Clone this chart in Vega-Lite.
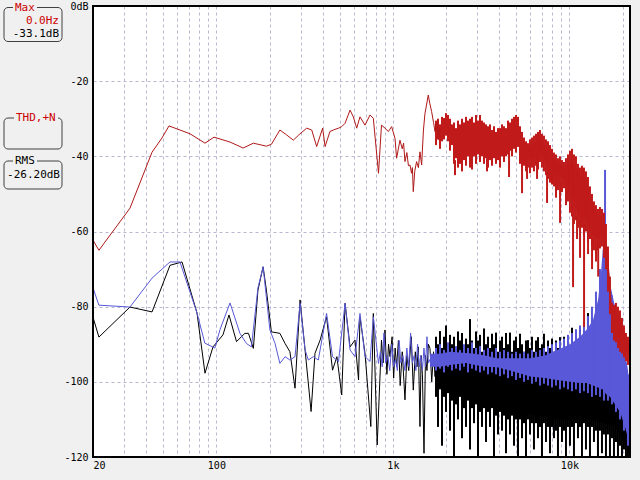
{
"$schema": "https://vega.github.io/schema/vega-lite/v6.json",
"width": 537, "height": 451,
"autosize": {"type": "none"},
"padding": {"left": 93, "top": 6, "right": 10, "bottom": 23},
"background": "#f0f0f0",
"view": {"fill": "white", "stroke": null},
"config": {"axis": {"labelFont": "DejaVu Sans Mono", "labelFontSize": 10, "labelColor": "#000000", "ticks": false, "domain": false, "gridColor": "#b8b8d0", "gridDash": [3, 3], "gridWidth": 1, "title": null}},
"datasets": {
"redLine": [{"f":20,"lo":-62.3},{"f":21.6,"lo":-65.0},{"f":32.4,"lo":-53.8},{"f":43.2,"lo":-38.9},{"f":49.2,"lo":-35.1},{"f":53.9,"lo":-31.9},{"f":70.9,"lo":-34.0},{"f":86.2,"lo":-36.5},{"f":97,"lo":-34.9},{"f":119.5,"lo":-36.2},{"f":136,"lo":-37.4},{"f":141.5,"lo":-37.8},{"f":162,"lo":-36.5},{"f":192,"lo":-37.3},{"f":205,"lo":-36.8},{"f":229,"lo":-33.0},{"f":250,"lo":-34.3},{"f":273,"lo":-35.7},{"f":293,"lo":-34.3},{"f":325,"lo":-32.5},{"f":347,"lo":-33.0},{"f":370,"lo":-37.4},{"f":400,"lo":-32.5},{"f":413,"lo":-37.4},{"f":440,"lo":-33.4},{"f":460,"lo":-33.0},{"f":492,"lo":-32.5},{"f":513,"lo":-32.1},{"f":536,"lo":-31.2},{"f":572,"lo":-27.7},{"f":597,"lo":-29.5},{"f":624,"lo":-32.5},{"f":651,"lo":-29.5},{"f":695,"lo":-31.7},{"f":742,"lo":-29.0},{"f":775,"lo":-29.9},{"f":829,"lo":-44.5},{"f":862,"lo":-31.7},{"f":902,"lo":-32.5},{"f":943,"lo":-33.4},{"f":984,"lo":-32.1},{"f":1028,"lo":-35.2},{"f":1050,"lo":-40.5},{"f":1097,"lo":-35.7},{"f":1130,"lo":-38},{"f":1150,"lo":-36.5},{"f":1171,"lo":-41.4},{"f":1200,"lo":-39},{"f":1225,"lo":-42.5},{"f":1250,"lo":-42.3},{"f":1275,"lo":-44.5},{"f":1290,"lo":-43},{"f":1305,"lo":-49.4},{"f":1330,"lo":-44},{"f":1362,"lo":-41.4},{"f":1395,"lo":-43},{"f":1424,"lo":-38.8},{"f":1455,"lo":-42.3},{"f":1490,"lo":-33},{"f":1520,"lo":-28.6},{"f":1587,"lo":-23.7},{"f":1620,"lo":-26},{"f":1658,"lo":-28.1},{"f":1700,"lo":-31},{"f":1733,"lo":-33.4},{"f":1770,"lo":-31},{"f":1810,"lo":-35.2},{"f":1849,"lo":-32.5}],
"redBand": [{"f":1755,"lo":-35,"hi":-32},{"f":1849,"lo":-36,"hi":-32.5},{"f":2000,"lo":-33,"hi":-30},{"f":2162,"lo":-36,"hi":-32.5},{"f":2400,"lo":-39,"hi":-33},{"f":2735,"lo":-38,"hi":-32},{"f":3116,"lo":-37.5,"hi":-31.5},{"f":3550,"lo":-38,"hi":-34},{"f":4044,"lo":-38,"hi":-34},{"f":4607,"lo":-36,"hi":-32.5},{"f":5114,"lo":-36,"hi":-31},{"f":5530,"lo":-40,"hi":-37},{"f":6138,"lo":-41,"hi":-37},{"f":6813,"lo":-39,"hi":-35},{"f":7563,"lo":-43,"hi":-38},{"f":8394,"lo":-45,"hi":-41},{"f":9318,"lo":-46,"hi":-43},{"f":10343,"lo":-52,"hi":-41},{"f":11480,"lo":-56,"hi":-45},{"f":12415,"lo":-57,"hi":-46},{"f":13425,"lo":-61,"hi":-52},{"f":14518,"lo":-62,"hi":-56},{"f":15296,"lo":-61,"hi":-56},{"f":15700,"lo":-64,"hi":-57},{"f":16541,"lo":-73,"hi":-66},{"f":17427,"lo":-84,"hi":-80},{"f":18361,"lo":-87,"hi":-81},{"f":19344,"lo":-89,"hi":-83},{"f":20380,"lo":-91,"hi":-86},{"f":21472,"lo":-93,"hi":-89},{"f":22050,"lo":-94,"hi":-90}],
"redSpike": [{"f":1755,"lo":-37,"hi":-30.5},{"f":1801,"lo":-35.5,"hi":-30},{"f":1849,"lo":-38,"hi":-31.5},{"f":1898,"lo":-36,"hi":-29.5},{"f":1948,"lo":-35.5,"hi":-29.8},{"f":2000,"lo":-34.5,"hi":-28.5},{"f":2053,"lo":-36,"hi":-29},{"f":2107,"lo":-38.5,"hi":-30},{"f":2162,"lo":-37,"hi":-31.5},{"f":2219,"lo":-42,"hi":-31},{"f":2278,"lo":-40.5,"hi":-32.5},{"f":2338,"lo":-43,"hi":-30.5},{"f":2400,"lo":-42,"hi":-31.5},{"f":2464,"lo":-44,"hi":-30},{"f":2529,"lo":-41,"hi":-31},{"f":2596,"lo":-42.5,"hi":-29.5},{"f":2664,"lo":-40,"hi":-30.5},{"f":2735,"lo":-43,"hi":-30},{"f":2807,"lo":-41,"hi":-29.5},{"f":2881,"lo":-40,"hi":-31},{"f":2957,"lo":-42,"hi":-29},{"f":3035,"lo":-39.5,"hi":-30.5},{"f":3116,"lo":-41.5,"hi":-29},{"f":3198,"lo":-40,"hi":-30.5},{"f":3283,"lo":-42,"hi":-31},{"f":3369,"lo":-40.5,"hi":-31.5},{"f":3458,"lo":-43,"hi":-32},{"f":3550,"lo":-41,"hi":-31.5},{"f":3644,"lo":-42.5,"hi":-33},{"f":3740,"lo":-40.5,"hi":-32},{"f":3839,"lo":-42,"hi":-33.5},{"f":3940,"lo":-41,"hi":-32.5},{"f":4044,"lo":-43,"hi":-32.5},{"f":4151,"lo":-40,"hi":-31.5},{"f":4261,"lo":-41.5,"hi":-32},{"f":4373,"lo":-40,"hi":-32.5},{"f":4489,"lo":-39.5,"hi":-30.5},{"f":4607,"lo":-38.5,"hi":-31},{"f":4729,"lo":-40,"hi":-30},{"f":4854,"lo":-38,"hi":-29.5},{"f":4982,"lo":-39,"hi":-29},{"f":5114,"lo":-37.5,"hi":-29.5},{"f":5249,"lo":-42,"hi":-32},{"f":5388,"lo":-43,"hi":-33.5},{"f":5530,"lo":-42.5,"hi":-35},{"f":5676,"lo":-44,"hi":-36},{"f":5826,"lo":-43,"hi":-36.5},{"f":5980,"lo":-44.5,"hi":-35.5},{"f":6138,"lo":-43,"hi":-35},{"f":6300,"lo":-44,"hi":-34.5},{"f":6467,"lo":-42.5,"hi":-34},{"f":6638,"lo":-43.5,"hi":-33.5},{"f":6813,"lo":-41.5,"hi":-33},{"f":6993,"lo":-43,"hi":-34},{"f":7178,"lo":-44,"hi":-34.5},{"f":7368,"lo":-45,"hi":-35.5},{"f":7563,"lo":-46,"hi":-36},{"f":7763,"lo":-47,"hi":-37},{"f":7968,"lo":-47.5,"hi":-38},{"f":8178,"lo":-48,"hi":-39},{"f":8394,"lo":-48.5,"hi":-39.5},{"f":8616,"lo":-49,"hi":-40.5},{"f":8844,"lo":-48,"hi":-40},{"f":9078,"lo":-49.5,"hi":-41},{"f":9318,"lo":-48.5,"hi":-41.5},{"f":9564,"lo":-50,"hi":-40.5},{"f":9817,"lo":-52,"hi":-39.5},{"f":10076,"lo":-55,"hi":-38.5},{"f":10343,"lo":-56,"hi":-38},{"f":10616,"lo":-58,"hi":-39.5},{"f":10897,"lo":-57,"hi":-40},{"f":11185,"lo":-59,"hi":-42},{"f":11480,"lo":-60,"hi":-43},{"f":11784,"lo":-59,"hi":-42.5},{"f":12095,"lo":-61,"hi":-43},{"f":12415,"lo":-60,"hi":-44},{"f":12743,"lo":-63,"hi":-45.5},{"f":13080,"lo":-62,"hi":-48},{"f":13425,"lo":-64,"hi":-50},{"f":13780,"lo":-65,"hi":-52},{"f":14144,"lo":-66,"hi":-53},{"f":14518,"lo":-65,"hi":-54},{"f":14902,"lo":-64.5,"hi":-53.5},{"f":15296,"lo":-64,"hi":-54},{"f":15700,"lo":-67,"hi":-55},{"f":16115,"lo":-70,"hi":-58},{"f":16541,"lo":-76,"hi":-64},{"f":16978,"lo":-82,"hi":-72},{"f":17427,"lo":-87,"hi":-79},{"f":17888,"lo":-89,"hi":-79.5},{"f":18361,"lo":-89.5,"hi":-79},{"f":18846,"lo":-91,"hi":-80},{"f":19344,"lo":-92,"hi":-81},{"f":19856,"lo":-92.5,"hi":-83},{"f":20380,"lo":-93.5,"hi":-85},{"f":20919,"lo":-94.5,"hi":-87},{"f":21472,"lo":-95.5,"hi":-88},{"f":2249,"lo":-41,"hi":-45},{"f":2808,"lo":-39,"hi":-43.5},{"f":3415,"lo":-40.5,"hi":-44},{"f":4551,"lo":-38,"hi":-45.5},{"f":5392,"lo":-41,"hi":-49.8},{"f":5756,"lo":-42,"hi":-46},{"f":6558,"lo":-42,"hi":-46},{"f":7472,"lo":-44,"hi":-52.4},{"f":8400,"lo":-46,"hi":-51},{"f":8853,"lo":-47,"hi":-57.7},{"f":9570,"lo":-47,"hi":-53},{"f":10490,"lo":-53,"hi":-74.8},{"f":11052,"lo":-56,"hi":-62},{"f":11493,"lo":-57,"hi":-67},{"f":12109,"lo":-58,"hi":-85.4},{"f":12760,"lo":-60,"hi":-66},{"f":13439,"lo":-62,"hi":-70},{"f":14160,"lo":-64,"hi":-68},{"f":14560,"lo":-63,"hi":-72}],
"blackLine": [{"f":20,"lo":-82.8},{"f":21.6,"lo":-88.1},{"f":32.4,"lo":-80.1},{"f":43.2,"lo":-81.4},{"f":54.6,"lo":-69},{"f":63.9,"lo":-68.1},{"f":77.7,"lo":-81.7},{"f":86.2,"lo":-97.7},{"f":95.7,"lo":-90.7},{"f":109,"lo":-87.5},{"f":117.9,"lo":-82.2},{"f":130,"lo":-89.3},{"f":145,"lo":-87.1},{"f":152,"lo":-87.1},{"f":162,"lo":-91.1},{"f":172,"lo":-75.6},{"f":184,"lo":-69.4},{"f":192,"lo":-75.6},{"f":205,"lo":-86.7},{"f":229,"lo":-87.1},{"f":245,"lo":-89.8},{"f":261,"lo":-92.0},{"f":279,"lo":-101.7},{"f":298,"lo":-78.2},{"f":318,"lo":-91.5},{"f":344,"lo":-107.9},{"f":362,"lo":-92.4},{"f":387,"lo":-88.9},{"f":421,"lo":-82.7},{"f":455,"lo":-96.9},{"f":482,"lo":-93.3},{"f":513,"lo":-103.5},{"f":536,"lo":-79.1},{"f":572,"lo":-90.7},{"f":610,"lo":-88.9},{"f":639,"lo":-99.5},{"f":651,"lo":-82.7},{"f":695,"lo":-92.4},{"f":750,"lo":-111.9},{"f":775,"lo":-81.8},{"f":815,"lo":-116.8},{"f":862,"lo":-88.9},{"f":880,"lo":-95},{"f":902,"lo":-86.2},{"f":925,"lo":-98},{"f":945,"lo":-90},{"f":963,"lo":-93.3},{"f":990,"lo":-88},{"f":1010,"lo":-99},{"f":1030,"lo":-91},{"f":1050,"lo":-96},{"f":1075,"lo":-89},{"f":1100,"lo":-101},{"f":1130,"lo":-92},{"f":1171,"lo":-104.8},{"f":1200,"lo":-93},{"f":1230,"lo":-97},{"f":1272,"lo":-88},{"f":1305,"lo":-102.2},{"f":1340,"lo":-92},{"f":1370,"lo":-96},{"f":1395,"lo":-90.7},{"f":1424,"lo":-111.9},{"f":1445,"lo":-93},{"f":1470,"lo":-98},{"f":1501,"lo":-119},{"f":1530,"lo":-93},{"f":1560,"lo":-97},{"f":1590,"lo":-90},{"f":1623,"lo":-91.1},{"f":1660,"lo":-100},{"f":1700,"lo":-92},{"f":1733,"lo":-98.6},{"f":1770,"lo":-92},{"f":1810,"lo":-104},{"f":1849,"lo":-89.8}],
"blackBand": [{"f":1849,"lo":-101,"hi":-95},{"f":2107,"lo":-102,"hi":-95},{"f":2500,"lo":-103,"hi":-95},{"f":3000,"lo":-104.5,"hi":-95.5},{"f":4046,"lo":-106.5,"hi":-96},{"f":5985,"lo":-108.5,"hi":-97},{"f":8853,"lo":-110,"hi":-98},{"f":13093,"lo":-110,"hi":-99},{"f":15922,"lo":-111,"hi":-100},{"f":18139,"lo":-112,"hi":-101},{"f":20665,"lo":-116,"hi":-106},{"f":22050,"lo":-120,"hi":-110}],
"blackSpike": [{"f":1755,"lo":-104,"hi":-88},{"f":1801,"lo":-112,"hi":-90},{"f":1849,"lo":-102,"hi":-86.5},{"f":1898,"lo":-117,"hi":-91},{"f":1948,"lo":-104,"hi":-88},{"f":2000,"lo":-108,"hi":-85},{"f":2053,"lo":-103,"hi":-92},{"f":2107,"lo":-113,"hi":-87.5},{"f":2162,"lo":-105,"hi":-90},{"f":2219,"lo":-120,"hi":-88},{"f":2278,"lo":-106,"hi":-91},{"f":2338,"lo":-110,"hi":-86.6},{"f":2400,"lo":-104,"hi":-89},{"f":2464,"lo":-115,"hi":-87},{"f":2529,"lo":-107,"hi":-92},{"f":2596,"lo":-112,"hi":-88.5},{"f":2664,"lo":-105,"hi":-90},{"f":2735,"lo":-118,"hi":-83.3},{"f":2807,"lo":-107,"hi":-89},{"f":2881,"lo":-111,"hi":-91},{"f":2957,"lo":-106,"hi":-86.6},{"f":3035,"lo":-120,"hi":-89},{"f":3116,"lo":-108,"hi":-87.5},{"f":3198,"lo":-112,"hi":-92},{"f":3283,"lo":-107,"hi":-85.8},{"f":3369,"lo":-116,"hi":-90},{"f":3458,"lo":-108,"hi":-88},{"f":3550,"lo":-112,"hi":-91},{"f":3644,"lo":-107,"hi":-87.2},{"f":3740,"lo":-120,"hi":-90},{"f":3839,"lo":-109,"hi":-86.9},{"f":3940,"lo":-114,"hi":-92},{"f":4044,"lo":-108,"hi":-89},{"f":4151,"lo":-113,"hi":-88},{"f":4261,"lo":-109,"hi":-91},{"f":4373,"lo":-119,"hi":-87},{"f":4489,"lo":-110,"hi":-90},{"f":4607,"lo":-114,"hi":-86.9},{"f":4729,"lo":-109,"hi":-92},{"f":4854,"lo":-117,"hi":-89},{"f":4982,"lo":-110,"hi":-88},{"f":5114,"lo":-120,"hi":-91},{"f":5249,"lo":-110,"hi":-87.2},{"f":5388,"lo":-115,"hi":-90},{"f":5530,"lo":-111,"hi":-92},{"f":5676,"lo":-120,"hi":-89},{"f":5826,"lo":-110,"hi":-88.9},{"f":5980,"lo":-114,"hi":-91},{"f":6138,"lo":-111,"hi":-88},{"f":6300,"lo":-118,"hi":-92},{"f":6467,"lo":-111,"hi":-89},{"f":6638,"lo":-115,"hi":-88.1},{"f":6813,"lo":-112,"hi":-91},{"f":6993,"lo":-120,"hi":-90},{"f":7178,"lo":-111,"hi":-87.2},{"f":7368,"lo":-116,"hi":-92},{"f":7563,"lo":-112,"hi":-89},{"f":7763,"lo":-119,"hi":-91},{"f":7968,"lo":-112,"hi":-88.5},{"f":8178,"lo":-115,"hi":-92},{"f":8394,"lo":-113,"hi":-89},{"f":8616,"lo":-120,"hi":-91},{"f":8844,"lo":-112,"hi":-88.1},{"f":9078,"lo":-116,"hi":-92},{"f":9318,"lo":-113,"hi":-88},{"f":9564,"lo":-120,"hi":-91},{"f":9817,"lo":-112,"hi":-90},{"f":10076,"lo":-117,"hi":-92},{"f":10343,"lo":-112,"hi":-85.6},{"f":10616,"lo":-120,"hi":-91},{"f":10897,"lo":-111,"hi":-88},{"f":11185,"lo":-115,"hi":-92},{"f":11480,"lo":-112,"hi":-86},{"f":11784,"lo":-120,"hi":-90},{"f":12095,"lo":-111,"hi":-88},{"f":12415,"lo":-118,"hi":-91},{"f":12743,"lo":-112,"hi":-81.7},{"f":13080,"lo":-120,"hi":-90},{"f":13425,"lo":-112,"hi":-83.3},{"f":13780,"lo":-116,"hi":-91},{"f":14144,"lo":-113,"hi":-88},{"f":14518,"lo":-120,"hi":-85},{"f":14902,"lo":-113,"hi":-80},{"f":15296,"lo":-119,"hi":-90},{"f":15700,"lo":-114,"hi":-79.9},{"f":16115,"lo":-120,"hi":-92},{"f":16541,"lo":-114,"hi":-95},{"f":16978,"lo":-120,"hi":-96},{"f":17427,"lo":-115,"hi":-97},{"f":17888,"lo":-120,"hi":-99},{"f":18361,"lo":-116,"hi":-100},{"f":18846,"lo":-120,"hi":-101},{"f":19344,"lo":-117,"hi":-103},{"f":19856,"lo":-120,"hi":-104},{"f":20380,"lo":-118,"hi":-106},{"f":20919,"lo":-120,"hi":-108},{"f":21472,"lo":-120,"hi":-110}],
"blueLine": [{"f":20,"lo":-75},{"f":21.6,"lo":-79.6},{"f":32.4,"lo":-80.1},{"f":43.2,"lo":-72.4},{"f":54.6,"lo":-68.1},{"f":62.2,"lo":-68.1},{"f":77.7,"lo":-81.7},{"f":86,"lo":-89.7},{"f":98,"lo":-91},{"f":105,"lo":-86},{"f":119.5,"lo":-79},{"f":136,"lo":-87.1},{"f":148,"lo":-89.8},{"f":158,"lo":-90.7},{"f":172,"lo":-75},{"f":184,"lo":-69.4},{"f":201,"lo":-86.2},{"f":215,"lo":-89.8},{"f":229,"lo":-95.1},{"f":245,"lo":-93.3},{"f":261,"lo":-94.2},{"f":279,"lo":-93.3},{"f":298,"lo":-79.1},{"f":318,"lo":-91.5},{"f":332,"lo":-94.2},{"f":354,"lo":-93.3},{"f":378,"lo":-94.2},{"f":421,"lo":-81.8},{"f":455,"lo":-93.3},{"f":492,"lo":-94.6},{"f":536,"lo":-79.1},{"f":572,"lo":-91.5},{"f":610,"lo":-93.3},{"f":651,"lo":-81.8},{"f":695,"lo":-93.3},{"f":742,"lo":-94.6},{"f":775,"lo":-82.7},{"f":829,"lo":-95.1},{"f":850,"lo":-92},{"f":870,"lo":-96},{"f":890,"lo":-87},{"f":910,"lo":-95},{"f":935,"lo":-93},{"f":960,"lo":-97},{"f":985,"lo":-90},{"f":1010,"lo":-96},{"f":1035,"lo":-94},{"f":1060,"lo":-97},{"f":1085,"lo":-89},{"f":1110,"lo":-95},{"f":1140,"lo":-93},{"f":1170,"lo":-97},{"f":1200,"lo":-91},{"f":1230,"lo":-96},{"f":1260,"lo":-87},{"f":1290,"lo":-95},{"f":1320,"lo":-93},{"f":1350,"lo":-97},{"f":1380,"lo":-90},{"f":1410,"lo":-96},{"f":1440,"lo":-93},{"f":1470,"lo":-97},{"f":1500,"lo":-91},{"f":1530,"lo":-96},{"f":1560,"lo":-88},{"f":1590,"lo":-95},{"f":1623,"lo":-94}],
"blueBand": [{"f":1623,"lo":-96,"hi":-92.5},{"f":1849,"lo":-96,"hi":-92.5},{"f":2107,"lo":-95.5,"hi":-92},{"f":2600,"lo":-95,"hi":-92.3},{"f":2920,"lo":-95.5,"hi":-92.5},{"f":3327,"lo":-96,"hi":-93},{"f":3891,"lo":-96.1,"hi":-93.7},{"f":4611,"lo":-97,"hi":-93.7},{"f":5985,"lo":-98.6,"hi":-93.7},{"f":7279,"lo":-99,"hi":-93},{"f":8513,"lo":-99.5,"hi":-91.5},{"f":10088,"lo":-100,"hi":-90},{"f":11493,"lo":-100.3,"hi":-88},{"f":12590,"lo":-100.3,"hi":-86},{"f":13600,"lo":-101,"hi":-83.6},{"f":14560,"lo":-101.5,"hi":-78},{"f":15100,"lo":-102,"hi":-71},{"f":15512,"lo":-102,"hi":-64},{"f":15922,"lo":-103,"hi":-59.6},{"f":16343,"lo":-103.5,"hi":-64},{"f":16995,"lo":-104,"hi":-74},{"f":18139,"lo":-106,"hi":-80},{"f":19360,"lo":-108,"hi":-87},{"f":20665,"lo":-112,"hi":-92},{"f":21490,"lo":-115,"hi":-97},{"f":22050,"lo":-118,"hi":-104}],
"blueSpike": [{"f":1755,"lo":-97,"hi":-91},{"f":1849,"lo":-96.5,"hi":-90},{"f":1948,"lo":-97.5,"hi":-91.5},{"f":2053,"lo":-96,"hi":-89.5},{"f":2162,"lo":-97,"hi":-91},{"f":2278,"lo":-96.5,"hi":-90.5},{"f":2400,"lo":-97,"hi":-91.5},{"f":2529,"lo":-96,"hi":-90},{"f":2664,"lo":-97.5,"hi":-91},{"f":2807,"lo":-96.5,"hi":-89.5},{"f":2957,"lo":-97,"hi":-91},{"f":3116,"lo":-97.5,"hi":-90.5},{"f":3283,"lo":-97,"hi":-91.5},{"f":3458,"lo":-98,"hi":-91},{"f":3644,"lo":-97.5,"hi":-92},{"f":3839,"lo":-98,"hi":-91},{"f":4044,"lo":-98.5,"hi":-92},{"f":4261,"lo":-98,"hi":-91.5},{"f":4489,"lo":-99,"hi":-92},{"f":4729,"lo":-98.5,"hi":-92.5},{"f":4982,"lo":-99.5,"hi":-92},{"f":5249,"lo":-99,"hi":-92.5},{"f":5530,"lo":-100,"hi":-92},{"f":5826,"lo":-99.5,"hi":-92.5},{"f":6138,"lo":-100.5,"hi":-91.5},{"f":6467,"lo":-100,"hi":-92},{"f":6813,"lo":-101,"hi":-91.5},{"f":7178,"lo":-100.5,"hi":-91},{"f":7563,"lo":-101,"hi":-90.5},{"f":7968,"lo":-101.5,"hi":-90},{"f":8394,"lo":-101,"hi":-89.5},{"f":8844,"lo":-102,"hi":-89},{"f":9318,"lo":-101.5,"hi":-88.5},{"f":9817,"lo":-102,"hi":-87.5},{"f":10343,"lo":-102.5,"hi":-87},{"f":10897,"lo":-102,"hi":-86},{"f":11480,"lo":-103,"hi":-85},{"f":12095,"lo":-102.5,"hi":-84},{"f":12743,"lo":-103,"hi":-82.5},{"f":13425,"lo":-104,"hi":-80},{"f":14144,"lo":-103.5,"hi":-76},{"f":14902,"lo":-104,"hi":-70},{"f":15700,"lo":-105,"hi":-62},{"f":16541,"lo":-105,"hi":-66},{"f":17427,"lo":-106,"hi":-77},{"f":18361,"lo":-108,"hi":-82},{"f":19344,"lo":-110,"hi":-87},{"f":20380,"lo":-113,"hi":-92},{"f":21472,"lo":-117,"hi":-98},{"f":15922,"lo":-60,"hi":-43.6}]
},
"encoding": {
"x": {"field": "f", "type": "quantitative", "scale": {"type": "log", "domain": [20, 22050], "nice": false}, "axis": {"values": [20,30,40,50,60,70,80,90,100,200,300,400,500,600,700,800,900,1000,2000,3000,4000,5000,6000,7000,8000,9000,10000,20000], "labelExpr": "datum.value == 20 ? '20' : datum.value == 100 ? '100' : datum.value == 1000 ? '1k' : datum.value == 10000 ? '10k' : ''", "labelFlush": true, "labelOverlap": false, "labelPadding": 3, "grid": true, "title": null}},
"y": {"field": "lo", "type": "quantitative", "scale": {"domain": [-120, 0], "nice": false}, "axis": {"values": [0,-20,-40,-60,-80,-100,-120], "labelExpr": "datum.value == 0 ? '0dB' : '' + datum.value", "labelOverlap": false, "labelPadding": 5, "grid": true, "title": null}}
},
"layer": [
{"data": {"name": "blackBand"}, "mark": {"type": "area", "color": "#000000", "clip": true}, "encoding": {"y2": {"field": "hi"}}},
{"data": {"name": "blackSpike"}, "mark": {"type": "rule", "color": "#000000", "strokeWidth": 2, "clip": true}, "encoding": {"y2": {"field": "hi"}}},
{"data": {"name": "blackLine"}, "mark": {"type": "line", "color": "#000000", "strokeWidth": 1, "clip": true}, "encoding": {}},
{"data": {"name": "blueBand"}, "mark": {"type": "area", "color": "#5858d8", "clip": true}, "encoding": {"y2": {"field": "hi"}}},
{"data": {"name": "blueSpike"}, "mark": {"type": "rule", "color": "#5858d8", "strokeWidth": 2, "clip": true}, "encoding": {"y2": {"field": "hi"}}},
{"data": {"name": "blueLine"}, "mark": {"type": "line", "color": "#5858d8", "strokeWidth": 1, "clip": true}, "encoding": {}},
{"data": {"name": "redBand"}, "mark": {"type": "area", "color": "#c01a1a", "clip": true}, "encoding": {"y2": {"field": "hi"}}},
{"data": {"name": "redSpike"}, "mark": {"type": "rule", "color": "#c01a1a", "strokeWidth": 2, "clip": true}, "encoding": {"y2": {"field": "hi"}}},
{"data": {"name": "redLine"}, "mark": {"type": "line", "color": "#b01818", "strokeWidth": 1, "clip": true}, "encoding": {}},
{"data": {"values": [{}]}, "mark": {"type": "rect", "fillOpacity": 0, "stroke": "#000000", "strokeWidth": 2, "clip": false}, "encoding": {"x": {"value": 0}, "x2": {"value": "width"}, "y": {"value": 0}, "y2": {"value": "height"}}},
{"data": {"values": [{}]}, "mark": {"type": "rect", "fillOpacity": 0, "stroke": "#404040", "strokeWidth": 1, "cornerRadius": 4, "clip": false}, "encoding": {"x": {"value": -89}, "x2": {"value": -31}, "y": {"value": 1.5}, "y2": {"value": 35.5}}},
{"data": {"values": [{}]}, "mark": {"type": "rect", "fillOpacity": 0, "stroke": "#404040", "strokeWidth": 1, "cornerRadius": 4, "clip": false}, "encoding": {"x": {"value": -89}, "x2": {"value": -31}, "y": {"value": 112}, "y2": {"value": 143}}},
{"data": {"values": [{}]}, "mark": {"type": "rect", "fillOpacity": 0, "stroke": "#404040", "strokeWidth": 1, "cornerRadius": 4, "clip": false}, "encoding": {"x": {"value": -89}, "x2": {"value": -31}, "y": {"value": 155}, "y2": {"value": 183}}},
{"data": {"values": [{}]}, "mark": {"type": "rect", "color": "#f0f0f0", "clip": false}, "encoding": {"x": {"value": -80}, "x2": {"value": -56}, "y": {"value": -5}, "y2": {"value": 8}}},
{"data": {"values": [{}]}, "mark": {"type": "rect", "color": "#f0f0f0", "clip": false}, "encoding": {"x": {"value": -79}, "x2": {"value": -35}, "y": {"value": 106}, "y2": {"value": 118}}},
{"data": {"values": [{}]}, "mark": {"type": "rect", "color": "#f0f0f0", "clip": false}, "encoding": {"x": {"value": -80}, "x2": {"value": -56}, "y": {"value": 149}, "y2": {"value": 161}}},
{"data": {"values": [{}]}, "mark": {"type": "text", "font": "DejaVu Sans Mono", "fontSize": 11, "align": "left", "baseline": "middle", "color": "#cc0000", "clip": false}, "encoding": {"x": {"value": -78}, "y": {"value": 1.5}, "text": {"value": "Max"}}},
{"data": {"values": [{}]}, "mark": {"type": "text", "font": "DejaVu Sans Mono", "fontSize": 11, "align": "right", "baseline": "middle", "color": "#cc0000", "clip": false}, "encoding": {"x": {"value": -34}, "y": {"value": 15}, "text": {"value": "0.0Hz"}}},
{"data": {"values": [{}]}, "mark": {"type": "text", "font": "DejaVu Sans Mono", "fontSize": 11, "align": "right", "baseline": "middle", "color": "#000000", "clip": false}, "encoding": {"x": {"value": -34}, "y": {"value": 28}, "text": {"value": "-33.1dB"}}},
{"data": {"values": [{}]}, "mark": {"type": "text", "font": "DejaVu Sans Mono", "fontSize": 11, "align": "left", "baseline": "middle", "color": "#cc0000", "clip": false}, "encoding": {"x": {"value": -77}, "y": {"value": 112}, "text": {"value": "THD,+N"}}},
{"data": {"values": [{}]}, "mark": {"type": "text", "font": "DejaVu Sans Mono", "fontSize": 11, "align": "left", "baseline": "middle", "color": "#000000", "clip": false}, "encoding": {"x": {"value": -78}, "y": {"value": 155}, "text": {"value": "RMS"}}},
{"data": {"values": [{}]}, "mark": {"type": "text", "font": "DejaVu Sans Mono", "fontSize": 11, "align": "right", "baseline": "middle", "color": "#000000", "clip": false}, "encoding": {"x": {"value": -33}, "y": {"value": 169}, "text": {"value": "-26.20dB"}}}
]
}
